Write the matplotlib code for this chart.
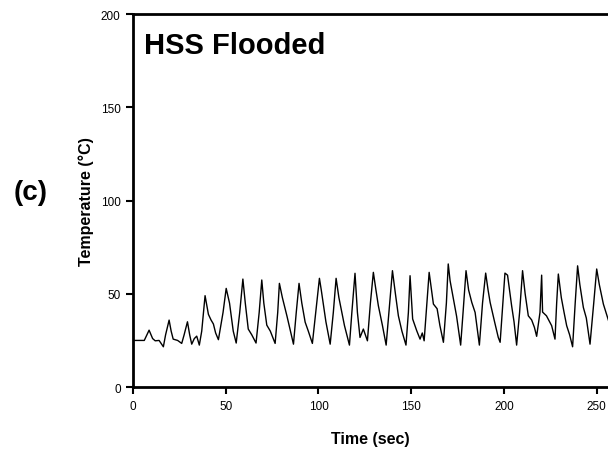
import matplotlib
matplotlib.use("Agg")
import matplotlib.pyplot as plt

plt.rcParams['font.family'] = ['Liberation Sans', 'DejaVu Sans']

# time (sec) and temperature (deg C)
time_s = [0, 6, 8.6, 10.5, 11.9, 14, 16.3, 17.5, 19.4, 20.5, 21.6, 24, 26.2, 27.5,
          29.3, 30.5, 31.6, 33, 34.3, 35.7, 37, 38.8, 40.6, 42, 43.3, 44.5, 46,
          48.5, 50.2, 52, 54, 55.6, 57.5, 59.2, 60.5, 62.1, 64, 66.3, 68, 69.4,
          70.5, 72.1, 74, 76.6, 78, 78.9, 80.5, 83, 86.5, 88, 89.5, 91, 92.8,
          94.5, 96.7, 98.5, 100.5, 101.5, 104, 106.3, 108, 109.5, 111, 114,
          116.7, 118, 119.7, 121, 122.4, 124.2, 126.4, 128, 129.6, 131, 132.3,
          134.5, 136.5, 138, 139.9, 141.5, 143.1, 145, 147.2, 148.5, 149.4,
          150.8, 153, 154.8, 156, 157, 158.5, 159.7, 161, 162, 164, 165.5,
          167.4, 169, 170, 171, 172.8, 174.5, 176.7, 178, 179.6, 181, 182.7,
          184.5, 186.8, 188.5, 190.2, 191.5, 192.6, 195, 197, 198, 199.5,
          200.6, 202, 204.2, 205.5, 206.9, 208.5, 210.1, 211.5, 213.2, 215,
          216.5, 217.7, 219.5, 220.4, 220.9, 223, 225.8, 227.6, 228.5, 229.4,
          231, 232.5, 233.9, 235.5, 237.1, 238.5, 239.8, 241, 242.9, 244.5,
          246.5, 248.5, 250.1, 251.5, 253.7, 256.2, 257]
temp_c = [25, 25, 30.5, 26, 24.8, 25, 21.6, 28, 35.9, 30, 25.7, 25, 23.4, 28,
          35, 28, 23, 26, 27.3, 22.5, 30, 49, 39, 36, 33.8, 29, 25.4,
          40, 52.9, 45, 30, 23.6, 40, 57.9, 45, 31.1, 28, 23.6, 40, 57.4,
          45, 33.2, 30, 23.4, 40, 55.6, 48, 38, 23, 40, 55.6, 45, 34.8,
          30, 23.4, 40, 58.3, 52, 35, 23, 40, 58.3, 48, 33,
          22.5, 40, 61, 40, 26.6, 31.1, 24.8, 45, 61.5, 52, 43.6,
          33, 22.5, 40, 62.4, 50, 38.2, 30, 22.5, 40, 59.7,
          36.5, 30.2, 25.7, 29, 24.8, 45, 61.5, 52, 44.5, 42, 33,
          24, 45, 66, 57, 47.2, 38, 22.5, 40, 62.4, 52, 45.4,
          40, 22.5, 45, 61.1, 52, 45.4, 35, 26.6, 24, 45,
          61.1, 60, 43.6, 35, 22.5, 40, 62.4, 50, 38.2, 36,
          32, 27.2, 40, 60, 40.2, 38.2, 32.9, 25.7, 45, 60.6,
          48, 40, 32.9, 28, 21.6, 45, 65, 55, 42.7, 37,
          23, 45, 63.3, 55, 44.5, 36.5, 34]

x_ticks = [0, 50, 100, 150, 200, 250]
y_ticks = [0, 50, 100, 150, 200]

fig = plt.figure(figsize=(6.08, 4.56), dpi=100)
ax = fig.add_axes([0.219, 0.149, 0.781, 0.818])

ax.plot(time_s, temp_c, color='black', lw=1.0)

ax.set_xlim(0, 256.2)
ax.set_ylim(0, 200)
ax.set_xticks(x_ticks)
ax.set_yticks(y_ticks)
ax.tick_params(direction='out', length=5, width=1.5, labelsize=8.5, pad=4,
               colors='black')
for s in ['left', 'bottom', 'top']:
    ax.spines[s].set_linewidth(2)
ax.spines['right'].set_visible(False)

ax.set_xlabel('Time (sec)', fontsize=11.5, fontweight='bold', labelpad=14)
ax.set_ylabel('Temperature (°C)', fontsize=11.5, fontweight='bold', labelpad=5)

ax.text(0.022, 0.955, 'HSS Flooded', transform=ax.transAxes, fontsize=21,
        fontweight='bold', va='top', ha='left')
fig.text(31 / 608, 1 - 193 / 456, '(c)', fontsize=20, fontweight='bold',
         ha='center', va='center')

fig.savefig('out.png', dpi=100)
